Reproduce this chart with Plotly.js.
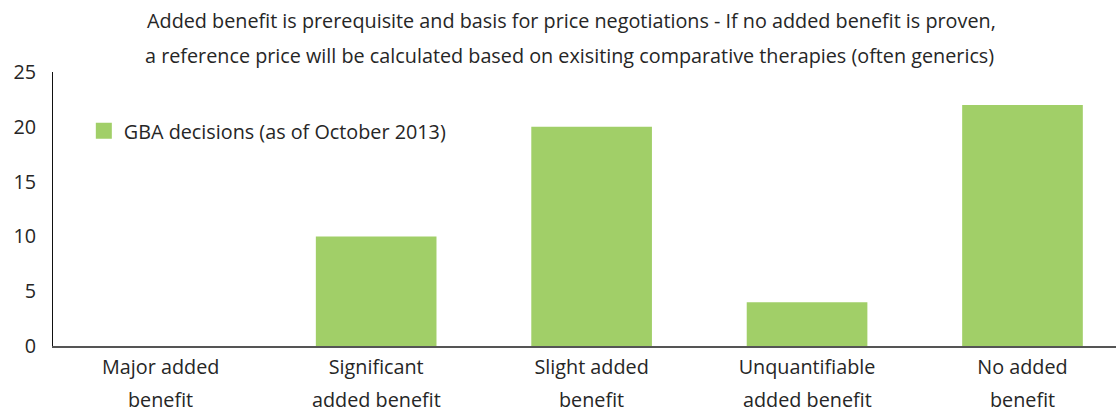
<!DOCTYPE html>
<html>
<head>
<meta charset="utf-8">
<script src="https://cdn.plot.ly/plotly-3.0.1.min.js"></script>
<style>html,body{margin:0;padding:0;background:#fff}#chart{width:1116px;height:409px}</style>
</head>
<body>
<div id="chart"></div>
<script>
const categories = ["Major added benefit", "Significant added benefit", "Slight added benefit", "Unquantifiable added benefit", "No added benefit"];
const labelLine1 = ["Major added", "Significant", "Slight added", "Unquantifiable", "No added"];
const labelLine2 = ["benefit", "added benefit", "benefit", "added benefit", "benefit"];
const decisions = [0, 10, 20, 4, 22];
const seriesName = "GBA decisions (as of October 2013)";
const titleLine1 = "Added benefit is prerequisite and basis for price negotiations - If no added benefit is proven,";
const titleLine2 = "a reference price will be calculated based on exisiting comparative therapies (often generics)";
const yTicks = [0, 5, 10, 15, 20, 25];

const FONT = "'Open Sans', 'Noto Sans', sans-serif";
const FS = 19.8;
const GREEN = "#a1cf68";
const TXT = "#262626";

const traces = [
  {type: "bar", x: categories, y: decisions, marker: {color: GREEN}, showlegend: false, hoverinfo: "x+y"},
  {type: "scatter", mode: "markers", x: [null], y: [null], name: seriesName,
   marker: {symbol: "square", size: 16, color: GREEN}, showlegend: true}
];

const annotations = categories.map((c, i) => ({
  xref: "x", yref: "paper", x: c, y: 0, yanchor: "top", yshift: -37.5,
  text: labelLine2[i], showarrow: false, font: {family: FONT, size: FS, color: TXT}
}));
annotations.push({
  xref: "paper", yref: "paper", x: 0.486, y: 1, xanchor: "center", yanchor: "bottom", yshift: 1,
  text: titleLine2, showarrow: false, font: {family: FONT, size: FS, color: TXT}
});

const layout = {
  width: 1116, height: 409,
  margin: {l: 53, r: 0, t: 72, b: 63},
  paper_bgcolor: "#fff", plot_bgcolor: "#fff",
  font: {family: FONT, size: FS, color: TXT},
  title: {text: titleLine1, font: {family: FONT, size: FS, color: TXT}, x: 0.512, xanchor: "center", y: 0.966, yanchor: "top"},
  bargap: 0.44,
  showlegend: true,
  legend: {x: 0.029, y: 0.785, xanchor: "left", yanchor: "middle", bgcolor: "rgba(0,0,0,0)",
           font: {family: FONT, size: FS, color: TXT}},
  xaxis: {type: "category", range: [-0.5, 4.434], tickmode: "array", tickvals: categories, ticktext: labelLine1,
          showline: true, linecolor: "#555555", linewidth: 2, ticks: "", showgrid: false, zeroline: false,
          tickfont: {family: FONT, size: FS, color: TXT}, ticklabelstandoff: 2, fixedrange: true},
  yaxis: {range: [0, 25], tickvals: yTicks, showline: true, linecolor: "#111111", linewidth: 1, ticks: "",
          showgrid: false, zeroline: false, tickfont: {family: FONT, size: FS, color: TXT},
          ticklabelstandoff: 12, fixedrange: true},
  annotations: annotations
};

Plotly.newPlot("chart", traces, layout, {displayModeBar: false, staticPlot: true});
</script>
</body>
</html>
